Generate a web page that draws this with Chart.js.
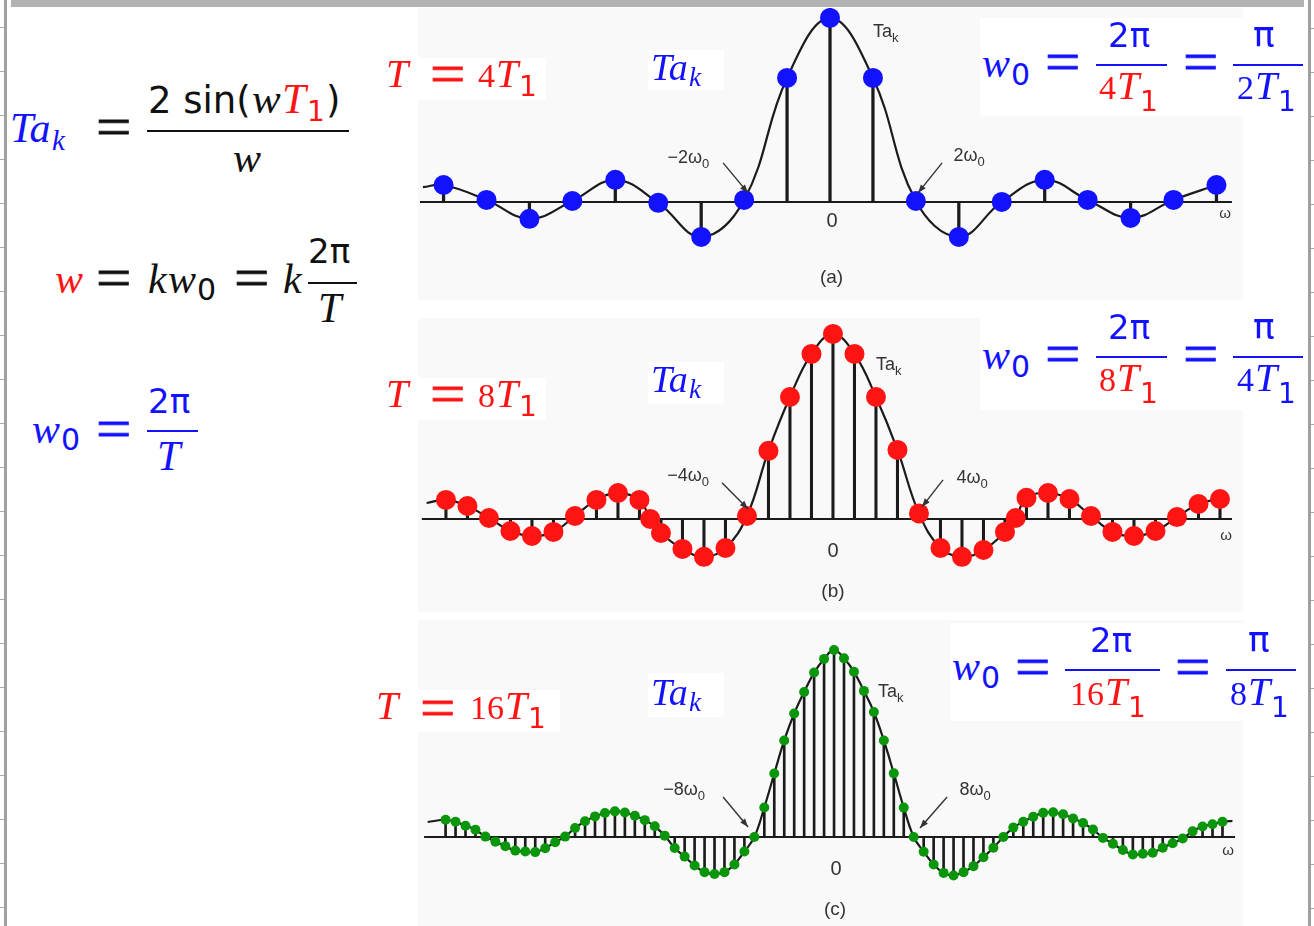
<!DOCTYPE html>
<html>
<head>
<meta charset="utf-8">
<script src="https://cdn.jsdelivr.net/npm/chart.js@4.4.1/dist/chart.umd.min.js"></script>
<style>
  html, body { margin: 0; padding: 0; }
  body { width: 1314px; height: 926px; background: #fff; position: relative; overflow: hidden; }
  .panel { position: absolute; left: 418px; width: 825px; background: #f9f9f9; z-index: 1; }
  .panel canvas { position: absolute; left: 0; top: 0; }
  .box { position: absolute; background: #fff; z-index: 2; }
  .tk { position: absolute; line-height: 1; white-space: nowrap; z-index: 3; }
  .i { font-family: 'Liberation Serif', serif; font-style: italic; }
  .r { font-family: 'Liberation Serif', serif; }
  .s { font-family: 'DejaVu Sans', sans-serif; }
  .e { font-family: 'Liberation Serif', serif; -webkit-text-stroke: 0.8px currentColor;
       transform: scaleX(1.12); transform-origin: left center; }
  .rule { position: absolute; height: 2px; z-index: 3; }
  #topbar { position: absolute; left: 11px; top: 0; width: 1293px; height: 7px; background: #b2b2b2; }
  #lrule { position: absolute; left: 4px; top: 0; width: 3px; height: 926px; background: #a0a0a0; }
  #lticks { position: absolute; left: 0; top: 0; width: 4px; height: 926px;
    background: repeating-linear-gradient(to bottom, transparent 0 27px, #a8a8a8 27px 28px, transparent 28px 44px); }
  #rrule { position: absolute; left: 1308px; top: 0; width: 3px; height: 926px; background: #a0a0a0; }
  #rticks { position: absolute; left: 1311px; top: 0; width: 3px; height: 926px;
    background: repeating-linear-gradient(to bottom, transparent 0 28px, #a8a8a8 28px 29px, transparent 29px 44px); }
</style>
</head>
<body>
<div id="topbar"></div>
<div id="lticks"></div><div id="lrule"></div>
<div id="rrule"></div><div id="rticks"></div>

<div class="panel" style="top:8px;height:292px"><canvas id="panelA" width="825" height="292"></canvas></div>
<div class="panel" style="top:318px;height:294px"><canvas id="panelB" width="825" height="294"></canvas></div>
<div class="panel" style="top:620px;height:306px"><canvas id="panelC" width="825" height="306"></canvas></div>

<script>
const range = (a, b) => Array.from({ length: b - a + 1 }, (_, i) => a + i);

// ---- values (Ta_k, peak = 1) ----
// (a) T = 4T1
const kA = range(-9, 9);
const taA = [0.092, 0.011, -0.092, 0.005, 0.12, -0.005, -0.19, 0.011, 0.674, 1,
             0.674, 0.005, -0.19, 0, 0.12, 0.011, -0.087, 0.011, 0.092];
const endKA = [-9.48];
const endTaA = [0.08];

// (b) T = 8T1
const kB = range(-18, 18);
const taB = [0.103, 0.07, 0.005, -0.065, -0.092, -0.07, 0.016, 0.103, 0.14, 0.103,
             -0.076, -0.162, -0.205, -0.157, 0.016, 0.368, 0.659, 0.892, 1,
             0.892, 0.659, 0.373, 0.03, -0.157, -0.205, -0.168, -0.07, 0.114, 0.14,
             0.108, 0.016, -0.07, -0.092, -0.065, 0.01, 0.081, 0.108];
const extraKB = [-8.5, 8.5];     // the doubled dots next to +-8
const extraTaB = [0, 0.005];
const endKB = [-18.9];
const endTaB = [0.086];

// (c) T = 16T1
const kC = range(-39, 39);
const taC = [0.092, 0.081, 0.06, 0.039, 0.002, -0.025, -0.049, -0.073, -0.078, -0.081,
             -0.06, -0.028, 0.002, 0.048, 0.084, 0.11, 0.128, 0.137, 0.131, 0.113,
             0.09, 0.057, 0.007, -0.059, -0.105, -0.153, -0.188, -0.198, -0.188, -0.147,
             -0.078, 0, 0.158, 0.339, 0.516, 0.66, 0.775, 0.879, 0.952, 1,
             0.955, 0.883, 0.781, 0.668, 0.516, 0.34, 0.157, 0, -0.079, -0.147,
             -0.192, -0.206, -0.188, -0.156, -0.108, -0.058, 0, 0.05, 0.081, 0.108,
             0.129, 0.132, 0.121, 0.099, 0.075, 0.04, -0.005, -0.036, -0.07, -0.094,
             -0.09, -0.084, -0.057, -0.034, -0.008, 0.03, 0.056, 0.068, 0.081];
const endKC = [-40.8, 40];
const endTaC = [0.08, 0.086];

const BLUE = '#1212ff', RED = '#ff1414', GREEN = '#0a960a', INK = '#111';

// axis line, arrows and the small figure labels, placed in data units
function notes(p) {
  return {
    id: 'notes',
    beforeDatasetsDraw(chart) {
      const { ctx, scales: { x, y } } = chart;
      const y0 = y.getPixelForValue(0);
      ctx.save();
      ctx.strokeStyle = '#1b1b1b';
      ctx.lineWidth = 2;
      ctx.beginPath();
      ctx.moveTo(x.getPixelForValue(p.axis[0]), y0);
      ctx.lineTo(x.getPixelForValue(p.axis[1]), y0);
      ctx.stroke();
      ctx.restore();
    },
    afterDatasetsDraw(chart) {
      const { ctx, scales: { x, y } } = chart;
      ctx.save();
      ctx.fillStyle = '#333';
      ctx.strokeStyle = '#333';
      ctx.lineWidth = 1.4;
      for (const a of p.arrows) {
        const x1 = x.getPixelForValue(a[0]), y1 = y.getPixelForValue(a[1]);
        const x2 = x.getPixelForValue(a[2]), y2 = y.getPixelForValue(a[3]);
        const ang = Math.atan2(y2 - y1, x2 - x1);
        ctx.beginPath(); ctx.moveTo(x1, y1); ctx.lineTo(x2, y2); ctx.stroke();
        ctx.beginPath();
        ctx.moveTo(x2, y2);
        ctx.lineTo(x2 - 9 * Math.cos(ang - 0.35), y2 - 9 * Math.sin(ang - 0.35));
        ctx.lineTo(x2 - 9 * Math.cos(ang + 0.35), y2 - 9 * Math.sin(ang + 0.35));
        ctx.closePath(); ctx.fill();
      }
      ctx.textBaseline = 'alphabetic';
      ctx.textAlign = 'left';
      for (const t of p.labels) {
        const main = `${t.size}px "Liberation Sans", Arial, sans-serif`;
        const small = `${Math.round(t.size * 0.72)}px "Liberation Sans", Arial, sans-serif`;
        ctx.font = main;
        const w1 = ctx.measureText(t.text).width;
        ctx.font = small;
        const w2 = t.sub ? ctx.measureText(t.sub).width : 0;
        let px = x.getPixelForValue(t.x);
        if (t.center) px -= (w1 + w2) / 2;
        const py = y.getPixelForValue(t.y);
        ctx.font = main;
        ctx.fillText(t.text, px, py);
        if (t.sub) { ctx.font = small; ctx.fillText(t.sub, px + w1, py + t.size * 0.3); }
      }
      ctx.restore();
    }
  };
}

function drawPanel(id, p) {
  const pts = (ks, vs) => ks.map((k, i) => ({ x: k, y: vs[i] }));
  const stems = pts(p.k, p.ta);
  const dots = stems.concat(pts(p.extraK || [], p.extraTa || []));
  const curve = dots.concat(pts(p.endK, p.endTa)).sort((a, b) => a.x - b.x);
  new Chart(document.getElementById(id), {
    type: 'scatter',
    data: {
      datasets: [
        { type: 'scatter', data: dots, pointRadius: p.r, pointHoverRadius: p.r,
          backgroundColor: p.color, borderWidth: 0, order: 0, clip: false },
        { type: 'line', data: curve, borderColor: '#1b1b1b', borderWidth: 2.2,
          pointRadius: 0, tension: 0.4, fill: false, order: 1, clip: false },
        { type: 'bar', data: stems, backgroundColor: '#1b1b1b',
          barThickness: p.stemW, order: 2 }
      ]
    },
    options: {
      responsive: false,
      animation: false,
      events: [],
      layout: { padding: 0, autoPadding: false },
      plugins: { legend: { display: false }, tooltip: { enabled: false } },
      scales: {
        x: { type: 'linear', min: p.xr[0], max: p.xr[1], display: false, offset: false },
        y: { type: 'linear', min: p.yr[0], max: p.yr[1], display: false }
      }
    },
    plugins: [notes(p)]
  });
}

drawPanel('panelA', {
  k: kA, ta: taA, endK: endKA, endTa: endTaA, color: BLUE, r: 10, stemW: 2.6,
  xr: [-9.595, 9.618], yr: [-0.533, 1.054], axis: [-9.55, 9.36],
  arrows: [[-2.49, 0.212, -1.91, 0.049], [2.61, 0.212, 2.05, 0.049]],
  labels: [
    { x: -3.3, y: 0.212, text: '\u22122\u03c9', sub: '0', size: 18, center: true },
    { x: 3.24, y: 0.223, text: '2\u03c9', sub: '0', size: 18, center: true },
    { x: 1.0, y: 0.897, text: 'Ta', sub: 'k', size: 18 },
    { x: 0.05, y: -0.136, text: '0', size: 20, center: true },
    { x: 9.2, y: -0.087, text: '\u03c9', size: 15, center: true },
    { x: 0.035, y: -0.44, text: '(a)', size: 19, center: true }
  ]
});

drawPanel('panelB', {
  k: kB, ta: taB, extraK: extraKB, extraTa: extraTaB, endK: endKB, endTa: endTaB,
  color: RED, r: 10, stemW: 2.4,
  xr: [-19.3, 19.07], yr: [-0.503, 1.086], axis: [-19.12, 18.56],
  arrows: [[-5.16, 0.195, -3.95, 0.054], [5.12, 0.211, 4.14, 0.065]],
  labels: [
    { x: -6.74, y: 0.205, text: '\u22124\u03c9', sub: '0', size: 18, center: true },
    { x: 6.47, y: 0.195, text: '4\u03c9', sub: '0', size: 18, center: true },
    { x: 2.0, y: 0.805, text: 'Ta', sub: 'k', size: 18 },
    { x: 0, y: -0.205, text: '0', size: 20, center: true },
    { x: 18.28, y: -0.114, text: '\u03c9', size: 15, center: true },
    { x: 0, y: -0.42, text: '(b)', size: 19, center: true }
  ]
});

drawPanel('panelC', {
  k: kC, ta: taC, endK: endKC, endTa: endTaC, color: GREEN, r: 5, stemW: 2,
  xr: [-41.77, 41.06], yr: [-0.476, 1.16], axis: [-41.16, 40.26],
  arrows: [[-11.14, 0.214, -8.63, 0.053], [11.35, 0.214, 8.63, 0.048]],
  labels: [
    { x: -15.06, y: 0.225, text: '\u22128\u03c9', sub: '0', size: 18, center: true },
    { x: 14.16, y: 0.225, text: '8\u03c9', sub: '0', size: 18, center: true },
    { x: 4.42, y: 0.749, text: 'Ta', sub: 'k', size: 18 },
    { x: 0.2, y: -0.203, text: '0', size: 20, center: true },
    { x: 39.56, y: -0.096, text: '\u03c9', size: 15, center: true },
    { x: 0.1, y: -0.417, text: '(c)', size: 19, center: true }
  ]
});

// ---- formulas (HTML text) ----
const boxes = [
  [380, 58, 166, 42], [648, 50, 76, 40], [980, 18, 263, 98],
  [380, 378, 166, 42], [648, 362, 76, 42], [980, 310, 263, 100],
  [370, 690, 190, 42], [648, 673, 76, 44], [950, 623, 293, 98]
];
const rules = [
  [147, 349, 131, INK], [308, 357, 283, INK], [147, 198, 431, BLUE],
  [1096, 1167, 65, BLUE], [1233, 1303, 65, BLUE],
  [1096, 1167, 357, BLUE], [1233, 1303, 357, BLUE],
  [1065, 1160, 670, BLUE], [1226, 1296, 670, BLUE]
];
// [text, left (null = right after the previous token), baseline, size, colour, font]
const tokens = [
  ['Ta', 10, 142, 42, BLUE, 'i'], ['k', null, 150, 29, BLUE, 'i'], ['=', 96, 146, 56, INK, 'e'],
  ['2 sin(', 148, 113, 37, INK, 's'], ['w', null, 113, 43, INK, 'i'], ['T', null, 113, 43, RED, 'i'],
  ['1', null, 122, 28, RED, 's'], [')', null, 113, 37, INK, 's'], ['w', 233, 172, 42, INK, 'i'],

  ['w', 55, 293, 42, RED, 'i'], ['=', 96, 297, 56, INK, 'e'], ['k', 148, 293, 42, INK, 'i'],
  ['w', null, 293, 42, INK, 'i'], ['0', null, 300, 30, INK, 's'], ['=', 234, 297, 56, INK, 'e'],
  ['k', 283, 293, 42, INK, 'i'], ['2\u03c0', 308, 263, 34, INK, 's'], ['T', 318, 322, 42, INK, 'i'],

  ['w', 32, 443, 42, BLUE, 'i'], ['0', null, 450, 30, BLUE, 's'], ['=', 96, 448, 56, BLUE, 'e'],
  ['2\u03c0', 148, 413, 34, BLUE, 's'], ['T', 157, 470, 42, BLUE, 'i'],

  ['T', 386, 88, 40, RED, 'i'], ['=', 430, 93, 56, RED, 'e'], ['4', 478, 88, 34, RED, 'r'],
  ['T', null, 88, 40, RED, 'i'], ['1', null, 97, 28, RED, 's'],
  ['Ta', 651, 80, 38, BLUE, 'i'], ['k', null, 87, 27, BLUE, 'i'],
  ['w', 982, 77, 42, BLUE, 'i'], ['0', null, 85, 30, BLUE, 's'], ['=', 1045, 81, 56, BLUE, 'e'],
  ['2\u03c0', 1108, 47, 34, BLUE, 's'], ['4', 1099, 100, 34, RED, 'r'], ['T', null, 100, 40, RED, 'i'],
  ['1', null, 112, 28, RED, 's'], ['=', 1183, 81, 56, BLUE, 'e'], ['\u03c0', 1253, 47, 36, BLUE, 's'],
  ['2', 1237, 100, 34, BLUE, 'r'], ['T', null, 100, 40, BLUE, 'i'], ['1', null, 112, 28, BLUE, 's'],

  ['T', 386, 408, 40, RED, 'i'], ['=', 430, 413, 56, RED, 'e'], ['8', 478, 408, 34, RED, 'r'],
  ['T', null, 408, 40, RED, 'i'], ['1', null, 417, 28, RED, 's'],
  ['Ta', 651, 392, 38, BLUE, 'i'], ['k', null, 399, 27, BLUE, 'i'],
  ['w', 982, 369, 42, BLUE, 'i'], ['0', null, 377, 30, BLUE, 's'], ['=', 1045, 373, 56, BLUE, 'e'],
  ['2\u03c0', 1108, 339, 34, BLUE, 's'], ['8', 1099, 392, 34, RED, 'r'], ['T', null, 392, 40, RED, 'i'],
  ['1', null, 404, 28, RED, 's'], ['=', 1183, 373, 56, BLUE, 'e'], ['\u03c0', 1253, 339, 36, BLUE, 's'],
  ['4', 1237, 392, 34, BLUE, 'r'], ['T', null, 392, 40, BLUE, 'i'], ['1', null, 404, 28, BLUE, 's'],

  ['T', 376, 720, 40, RED, 'i'], ['=', 420, 727, 56, RED, 'e'], ['16', 470, 720, 34, RED, 'r'],
  ['T', null, 720, 40, RED, 'i'], ['1', null, 729, 28, RED, 's'],
  ['Ta', 651, 705, 38, BLUE, 'i'], ['k', null, 712, 27, BLUE, 'i'],
  ['w', 952, 680, 42, BLUE, 'i'], ['0', null, 688, 30, BLUE, 's'], ['=', 1015, 686, 56, BLUE, 'e'],
  ['2\u03c0', 1090, 652, 34, BLUE, 's'], ['16', 1070, 706, 34, RED, 'r'], ['T', null, 706, 40, RED, 'i'],
  ['1', null, 718, 28, RED, 's'], ['=', 1175, 686, 56, BLUE, 'e'], ['\u03c0', 1248, 652, 36, BLUE, 's'],
  ['8', 1230, 706, 34, BLUE, 'r'], ['T', null, 706, 40, BLUE, 'i'], ['1', null, 718, 28, BLUE, 's']
];

for (const [x, y, w, h] of boxes) {
  const d = document.createElement('div');
  d.className = 'box';
  Object.assign(d.style, { left: x + 'px', top: y + 'px', width: w + 'px', height: h + 'px' });
  document.body.appendChild(d);
}
for (const [x1, x2, y, c] of rules) {
  const d = document.createElement('div');
  d.className = 'rule';
  Object.assign(d.style, { left: x1 + 'px', top: (y - 1) + 'px', width: (x2 - x1) + 'px', background: c });
  document.body.appendChild(d);
}
let prev = null;
for (const [text, x, base, size, color, f] of tokens) {
  const s = document.createElement('span');
  s.className = 'tk ' + f;
  s.textContent = text;
  const left = x === null ? prev.offsetLeft + prev.offsetWidth + 1 : x;
  Object.assign(s.style, {
    left: left + 'px', top: (base - 0.84 * size) + 'px', fontSize: size + 'px', color: color
  });
  document.body.appendChild(s);
  prev = s;
}
</script>
</body>
</html>
